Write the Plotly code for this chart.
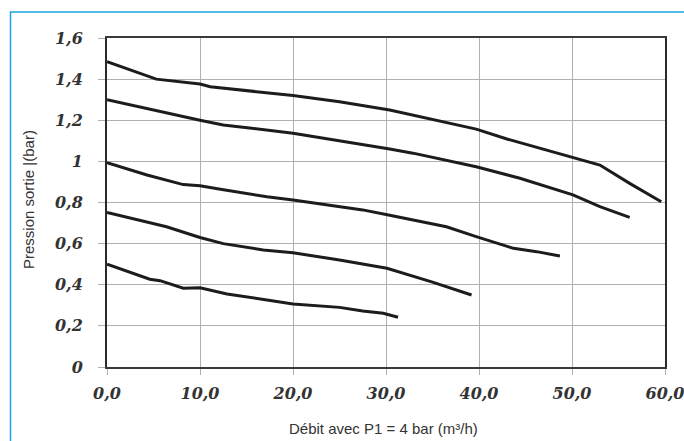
import plotly.graph_objects as go

# Data
flow_1 = [0, 5.3, 10, 11.1, 20, 25, 30.4, 35, 39.7, 43, 50.1, 53, 56.2, 59.6]
p_1 = [1.485, 1.40, 1.376, 1.363, 1.32, 1.29, 1.25, 1.205, 1.157, 1.109, 1.02, 0.982, 0.893, 0.804]

flow_2 = [0, 7.8, 10, 12.5, 20, 30.4, 32.9, 39.7, 44.4, 50.1, 53, 56.2]
p_2 = [1.30, 1.22, 1.20, 1.177, 1.137, 1.06, 1.04, 0.974, 0.918, 0.837, 0.78, 0.728]

flow_3 = [0, 4.3, 8.2, 10, 12.2, 17.2, 20, 27.5, 30.4, 36.5, 39.7, 43.7, 46.2, 48.7]
p_3 = [0.994, 0.934, 0.887, 0.881, 0.864, 0.828, 0.812, 0.764, 0.738, 0.682, 0.634, 0.577, 0.561, 0.54]

flow_4 = [0, 6.4, 10, 12.5, 16.8, 20, 25, 30.1, 35, 39.2]
p_4 = [0.751, 0.682, 0.63, 0.60, 0.569, 0.556, 0.52, 0.48, 0.413, 0.35]

flow_5 = [0, 4.6, 5.7, 8.2, 10, 12.9, 17.2, 20, 25, 27.5, 29.7, 31.3]
p_5 = [0.50, 0.427, 0.42, 0.383, 0.385, 0.355, 0.326, 0.306, 0.29, 0.272, 0.261, 0.242]

x_tickvals = [0, 10, 20, 30, 40, 50, 60]
x_ticktext = ["0,0", "10,0", "20,0", "30,0", "40,0", "50,0", "60,0"]
y_tickvals = [0, 0.2, 0.4, 0.6, 0.8, 1.0, 1.2, 1.4, 1.6]
y_ticktext = ["0", "0,2", "0,4", "0,6", "0,8", "1", "1,2", "1,4", "1,6"]

x_title = "Débit avec P1 = 4 bar (m³/h)"
y_title = "Pression sortie |(bar)"

fig = go.Figure()
for fx, py in [(flow_1, p_1), (flow_2, p_2), (flow_3, p_3), (flow_4, p_4), (flow_5, p_5)]:
    fig.add_trace(go.Scatter(x=fx, y=py, mode="lines",
                             line=dict(color="#1c1c1c", width=3),
                             showlegend=False, hoverinfo="skip"))

tickfont = dict(family="DejaVu Serif", size=16, color="#333333", weight="bold", style="italic")

W, H = 684, 441
L, R, T, B = 107, 19, 38, 74
pw, ph = W - L - R, H - T - B

fig.update_layout(
    width=W, height=H,
    margin=dict(l=L, r=R, t=T, b=B, pad=0, autoexpand=False),
    paper_bgcolor="white", plot_bgcolor="white",
    xaxis=dict(range=[0, 60], tickvals=x_tickvals, ticktext=x_ticktext,
               showgrid=True, gridcolor="#b0b0b0", gridwidth=1, zeroline=False,
               showline=True, linecolor="#3a3a3a", linewidth=2, mirror=True,
               ticks="outside", ticklen=6, tickcolor="#b0b0b0", tickwidth=1,
               tickfont=tickfont, ticklabelstandoff=5, ticklabeloverflow="allow",
               automargin=False),
    yaxis=dict(range=[0, 1.6], tickvals=y_tickvals, ticktext=y_ticktext,
               showgrid=True, gridcolor="#b0b0b0", gridwidth=1, zeroline=False,
               showline=True, linecolor="#2a2a2a", linewidth=2, mirror=True,
               ticks="outside", ticklen=7, tickcolor="#b0b0b0", tickwidth=1,
               tickfont=tickfont, ticklabelstandoff=12, ticklabeloverflow="allow",
               automargin=False),
)

# axis titles
fig.add_annotation(text=x_title, xref="paper", yref="paper",
                   x=(383 - L) / pw, y=(H - B - 428) / ph, showarrow=False,
                   xanchor="center", yanchor="middle",
                   font=dict(family="Liberation Sans", size=15, color="#333333"))
fig.add_annotation(text=y_title, xref="paper", yref="paper",
                   x=(28 - L) / pw, y=(H - B - 200) / ph, showarrow=False, textangle=-90,
                   xanchor="center", yanchor="middle",
                   font=dict(family="Liberation Sans", size=15, color="#333333"))

# cyan frame (top and left visible)
fig.add_shape(type="rect", xref="paper", yref="paper",
              x0=(10.5 - L) / pw, x1=(700 - L) / pw,
              y0=(H - B - 460) / ph, y1=(H - B - 12) / ph,
              line=dict(color="#19a7e0", width=1.5), fillcolor="rgba(0,0,0,0)", layer="below")

fig.write_html("out.html", config={"displayModeBar": False},
               post_script="document.body.style.margin='0';document.body.style.padding='0';")
